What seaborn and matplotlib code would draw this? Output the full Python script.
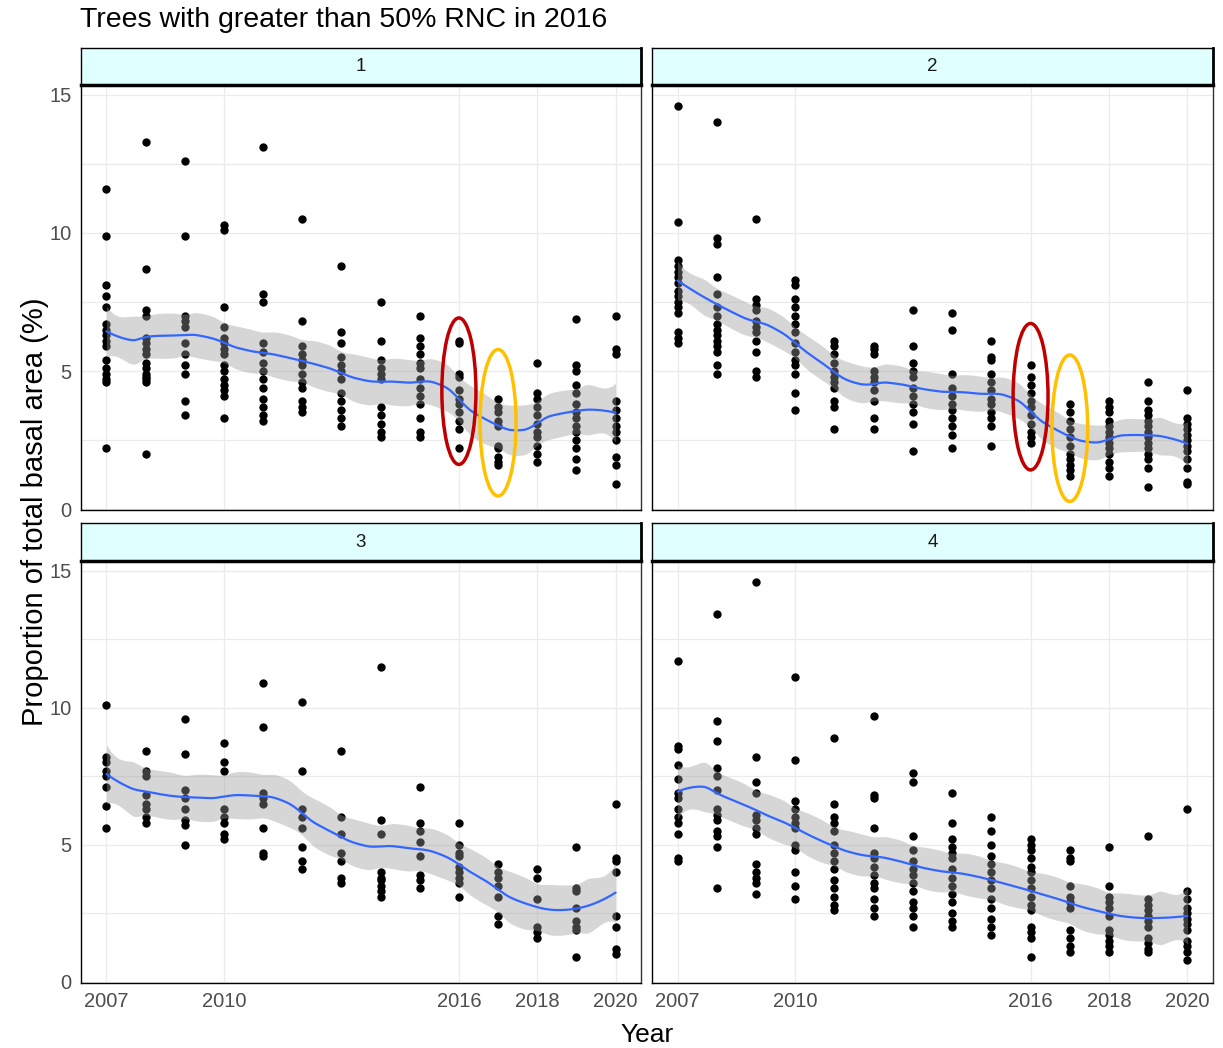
import numpy as np
import pandas as pd
import matplotlib.pyplot as plt
import seaborn as sns
from matplotlib.patches import Ellipse

sns.set_theme(style="white")
plt.rcParams['font.family'] = ['Liberation Sans', 'DejaVu Sans']

# ---------------------------
# Data (proportion of total basal area, %)
# ---------------------------
years = [2007, 2008, 2009, 2010, 2011, 2012, 2013, 2014, 2015, 2016, 2017, 2018, 2019, 2020]
year_breaks = [2007, 2010, 2016, 2018, 2020]

site1 = {
    2007: [11.6, 9.9, 8.1, 7.7, 7.3, 6.7, 6.5, 6.3, 6.1, 5.9, 5.4, 5.1, 4.9, 4.7, 4.6, 2.2],
    2008: [13.3, 8.7, 7.2, 7.0, 6.2, 6.0, 5.8, 5.6, 5.3, 5.1, 4.9, 4.8, 4.7, 4.6, 2.0],
    2009: [12.6, 9.9, 7.0, 6.8, 6.6, 6.0, 5.6, 5.2, 4.9, 3.9, 3.4],
    2010: [10.3, 10.1, 7.3, 6.6, 6.2, 6.0, 5.8, 5.6, 5.2, 5.0, 4.7, 4.5, 4.3, 4.1, 3.3],
    2011: [13.1, 7.8, 7.5, 6.0, 5.7, 5.3, 5.0, 4.7, 4.4, 4.0, 3.7, 3.4, 3.2],
    2012: [10.5, 6.8, 5.9, 5.6, 5.4, 5.2, 4.9, 4.6, 4.4, 3.9, 3.7, 3.5],
    2013: [8.8, 6.4, 6.0, 5.5, 5.2, 5.0, 4.7, 4.2, 3.9, 3.6, 3.3, 3.0],
    2014: [7.5, 6.1, 5.4, 5.1, 4.9, 4.7, 3.7, 3.4, 3.1, 2.8, 2.6],
    2015: [7.0, 6.2, 5.9, 5.6, 5.3, 5.1, 4.7, 4.4, 4.1, 3.8, 3.3, 2.8, 2.6],
    2016: [6.1, 6.0, 4.9, 4.8, 4.3, 4.0, 3.8, 3.5, 3.2, 2.9, 2.2],
    2017: [4.0, 3.7, 3.5, 3.2, 3.0, 2.3, 2.2, 1.9, 1.7, 1.6],
    2018: [5.3, 4.2, 4.0, 3.7, 3.4, 3.1, 2.8, 2.6, 2.3, 2.0, 1.7],
    2019: [6.9, 5.2, 5.0, 4.5, 4.2, 3.8, 3.5, 3.3, 3.0, 2.8, 2.5, 2.2, 1.8, 1.4],
    2020: [7.0, 5.8, 5.6, 3.9, 3.6, 3.3, 3.0, 2.8, 2.5, 1.9, 1.6, 0.9],
}

site2 = {
    2007: [14.6, 10.4, 9.0, 8.8, 8.6, 8.4, 8.2, 7.9, 7.7, 7.5, 7.3, 7.1, 6.4, 6.2, 6.0],
    2008: [14.0, 9.8, 9.6, 8.4, 7.8, 7.3, 7.0, 6.7, 6.5, 6.3, 6.1, 5.9, 5.7, 5.2, 4.9],
    2009: [10.5, 7.6, 7.4, 7.2, 6.8, 6.6, 6.4, 6.1, 5.7, 5.0, 4.8],
    2010: [8.3, 8.1, 7.6, 7.3, 7.0, 6.7, 6.4, 6.0, 5.7, 5.4, 5.2, 4.9, 4.2, 3.6],
    2011: [6.1, 5.9, 5.6, 5.3, 5.0, 4.8, 4.6, 4.4, 3.9, 3.7, 2.9],
    2012: [5.9, 5.8, 5.6, 5.0, 4.8, 4.6, 4.3, 3.9, 3.3, 2.9],
    2013: [7.2, 5.9, 5.3, 5.0, 4.8, 4.4, 4.1, 3.8, 3.5, 3.1, 2.1],
    2014: [7.1, 6.5, 4.9, 4.4, 4.1, 3.8, 3.6, 3.3, 3.0, 2.7, 2.2],
    2015: [6.1, 5.5, 5.4, 4.9, 4.6, 4.3, 4.0, 3.8, 3.5, 3.3, 3.0, 2.3],
    2016: [5.2, 4.8, 4.5, 4.2, 3.9, 3.7, 3.4, 3.1, 2.8, 2.6, 2.4],
    2017: [3.8, 3.5, 3.2, 2.9, 2.6, 2.3, 2.0, 1.8, 1.6, 1.4, 1.2],
    2018: [3.9, 3.7, 3.5, 3.2, 3.0, 2.8, 2.6, 2.4, 2.2, 2.0, 1.7, 1.5, 1.2],
    2019: [4.6, 3.9, 3.6, 3.4, 3.2, 3.0, 2.8, 2.6, 2.4, 2.2, 2.0, 1.8, 1.5, 0.8],
    2020: [4.3, 3.3, 3.1, 2.9, 2.7, 2.5, 2.3, 2.1, 1.8, 1.5, 1.0, 0.9],
}

site3 = {
    2007: [10.1, 8.2, 8.0, 7.7, 7.5, 7.1, 6.4, 5.6],
    2008: [8.4, 7.7, 7.5, 6.8, 6.5, 6.3, 6.0, 5.8],
    2009: [9.6, 8.3, 7.0, 6.7, 6.3, 5.9, 5.7, 5.0],
    2010: [8.7, 8.0, 7.7, 6.3, 6.0, 5.8, 5.4, 5.2],
    2011: [10.9, 9.3, 6.9, 6.7, 6.5, 5.6, 4.7, 4.6],
    2012: [10.2, 7.7, 6.3, 6.0, 5.6, 4.9, 4.4, 4.1],
    2013: [8.4, 6.0, 5.4, 4.7, 4.4, 3.8, 3.6],
    2014: [11.5, 5.9, 5.4, 4.0, 3.8, 3.7, 3.5, 3.3, 3.1],
    2015: [7.1, 5.8, 5.5, 5.1, 4.6, 3.9, 3.7, 3.4],
    2016: [5.8, 5.0, 4.7, 4.6, 4.2, 4.0, 3.8, 3.6, 3.1],
    2017: [4.3, 4.0, 3.8, 3.5, 3.1, 2.4, 2.1],
    2018: [4.1, 3.8, 3.0, 2.0, 1.8, 1.6],
    2019: [4.9, 3.4, 3.3, 2.7, 2.2, 2.0, 1.9, 0.9],
    2020: [6.5, 4.5, 4.4, 4.0, 2.4, 2.0, 1.2, 1.0],
}

site4 = {
    2007: [11.7, 8.6, 8.5, 7.9, 7.4, 6.9, 6.7, 6.3, 6.0, 5.8, 5.4, 4.5, 4.4],
    2008: [13.4, 9.5, 8.8, 7.8, 7.5, 7.0, 6.3, 6.1, 5.9, 5.5, 5.3, 4.9, 3.4],
    2009: [14.6, 8.2, 7.3, 6.9, 6.1, 5.9, 5.6, 5.4, 4.3, 4.0, 3.8, 3.6, 3.2],
    2010: [11.1, 8.1, 6.6, 6.3, 6.0, 5.8, 5.6, 5.0, 4.8, 4.0, 3.5, 3.0],
    2011: [8.9, 6.5, 6.0, 5.8, 5.5, 5.0, 4.7, 4.4, 4.1, 3.7, 3.4, 3.1, 2.8, 2.6],
    2012: [9.7, 6.8, 6.7, 5.6, 4.7, 4.5, 4.2, 3.9, 3.6, 3.4, 3.0, 2.7, 2.4],
    2013: [7.6, 7.3, 5.3, 4.8, 4.4, 4.1, 3.9, 3.6, 3.3, 2.9, 2.7, 2.4, 2.0],
    2014: [6.9, 5.8, 5.2, 4.9, 4.7, 4.5, 4.1, 3.8, 3.5, 3.2, 2.9, 2.5, 2.2, 2.0],
    2015: [6.0, 5.5, 5.0, 4.6, 4.3, 4.0, 3.7, 3.4, 3.0, 2.7, 2.3, 2.0, 1.7],
    2016: [5.2, 5.0, 4.8, 4.5, 4.2, 4.0, 3.7, 3.4, 3.1, 2.8, 2.6, 2.0, 1.8, 1.6, 0.9],
    2017: [4.8, 4.5, 4.4, 3.5, 3.1, 2.9, 2.7, 1.9, 1.6, 1.3, 1.1],
    2018: [4.9, 3.5, 3.1, 2.9, 2.7, 2.4, 1.9, 1.7, 1.5, 1.3, 1.1],
    2019: [5.3, 3.0, 2.8, 2.6, 2.4, 2.2, 2.0, 1.6, 1.4, 1.2, 1.1],
    2020: [6.3, 3.3, 3.0, 2.7, 2.5, 2.3, 2.1, 1.9, 1.5, 1.3, 1.1, 0.8],
}

sites = {"1": site1, "2": site2, "3": site3, "4": site4}

# highlighted years (panel, year, y centre, height, width in years, colour)
highlights = [
    ("1", 2016, 4.27, 5.3, 0.87, "#C00000"),
    ("1", 2017, 3.13, 5.3, 0.92, "#FFC000"),
    ("2", 2016, 4.07, 5.3, 0.89, "#C00000"),
    ("2", 2017, 2.93, 5.3, 0.91, "#FFC000"),
]

BANDWIDTH = 2.4  # years, tricube half-width of the local fit


def to_frame(site):
    rows = [(yr, v) for yr, vals in site.items() for v in vals]
    return pd.DataFrame(rows, columns=["year", "prop"])


def smoother_row(x, x0, h=BANDWIDTH):
    # local quadratic, tricube weights
    d = np.abs(x - x0)
    w = np.clip(1 - (d / h) ** 3, 0, None) ** 3
    X = np.column_stack([np.ones(len(x)), x - x0, (x - x0) ** 2])
    XtW = X.T * w
    return np.linalg.solve(XtW @ X, XtW)[0]


def loess(x, y, grid):
    n = len(x)
    L = np.array([smoother_row(x, g) for g in grid])
    fits = L @ y
    Lx = np.array([smoother_row(x, xi) for xi in x])
    rss = np.sum((y - Lx @ y) ** 2)
    sigma = np.sqrt(rss / (n - np.trace(Lx)))
    se = sigma * np.sqrt(np.sum(L ** 2, axis=1))
    return fits, se


# ---------------------------
# Layout (pixel boxes of the reference)
# ---------------------------
W, H = 1223, 1048
cols = [(81, 641), (652, 1213)]
rows = [(48, 85, 510), (523, 561, 982.5)]

fig = plt.figure(figsize=(W / 100, H / 100), dpi=100)
fig.patch.set_facecolor("white")

grid_x = np.linspace(2007, 2020, 131)

for idx, (name, site) in enumerate(sites.items()):
    r, c = divmod(idx, 2)
    x0, x1 = cols[c]
    s_top, p_top, p_bot = rows[r]

    ax = fig.add_axes([x0 / W, 1 - p_bot / H, (x1 - x0) / W, (p_bot - p_top) / H])
    sax = fig.add_axes([x0 / W, 1 - p_top / H, (x1 - x0) / W, (p_top - s_top) / H])

    df = to_frame(site)
    sns.scatterplot(data=df, x="year", y="prop", ax=ax, color="black",
                    s=36, linewidth=0, zorder=3, legend=False)

    fit, se = loess(df["year"].values.astype(float), df["prop"].values, grid_x)
    ax.fill_between(grid_x, fit - 1.96 * se, fit + 1.96 * se,
                    color="#999999", alpha=0.4, linewidth=0, zorder=4)
    sm = pd.DataFrame({"year": grid_x, "fit": fit})
    sns.lineplot(data=sm, x="year", y="fit", ax=ax, color="#3366FF",
                 linewidth=1.6, zorder=5)

    for pan, yr, yc, hgt, wid, col in highlights:
        if pan == name:
            ax.add_patch(Ellipse((yr, yc), wid, hgt, fill=False,
                                 edgecolor=col, linewidth=2.5, zorder=6))

    ax.set_xlim(2006.35, 2020.65)
    ax.set_ylim(-0.03, 15.35)
    ax.set_xticks(year_breaks)
    ax.set_yticks([0, 5, 10, 15])
    ax.set_yticks([2.5, 7.5, 12.5], minor=True)
    ax.grid(True, which="major", color="#EBEBEB", linewidth=0.9)
    ax.grid(True, which="minor", axis="y", color="#EBEBEB", linewidth=0.9)
    ax.set_axisbelow(True)
    ax.set_xlabel("")
    ax.set_ylabel("")
    for sp in ax.spines.values():
        sp.set_color("#333333")
        sp.set_linewidth(1.0)
    ax.spines["left"].set_color("black")
    ax.spines["bottom"].set_color("black")

    ax.tick_params(axis="both", which="major", length=4, width=0.8,
                   color="#333333", labelsize=14.5, labelcolor="#4D4D4D", pad=3)
    ax.tick_params(axis="y", which="minor", length=0)
    if r == 0:
        ax.tick_params(axis="x", which="major", length=0, labelbottom=False)
    if c == 1:
        ax.tick_params(axis="y", which="major", length=0, labelleft=False)

    # facet strip
    sax.set_facecolor("#E0FFFF")
    sax.set_xticks([])
    sax.set_yticks([])
    for sp in sax.spines.values():
        sp.set_color("black")
        sp.set_linewidth(1.0)
    sax.spines["bottom"].set_linewidth(2.5)
    sax.spines["right"].set_linewidth(2.0)
    sax.text(0.5, 0.5, name, ha="center", va="center", fontsize=13.5,
             color="#1A1A1A", transform=sax.transAxes)

fig.text(80 / W, 1 - 20 / H, "Trees with greater than 50% RNC in 2016",
         ha="left", va="center", fontsize=20.5, color="black")
fig.text(35 / W, 1 - 512 / H, "Proportion of total basal area (%)",
         ha="center", va="center", rotation=90, fontsize=21, color="black")
fig.text(647 / W, 1 - 1035 / H, "Year", ha="center", va="center",
         fontsize=19, color="black")

plt.savefig("out.png", dpi=100)
